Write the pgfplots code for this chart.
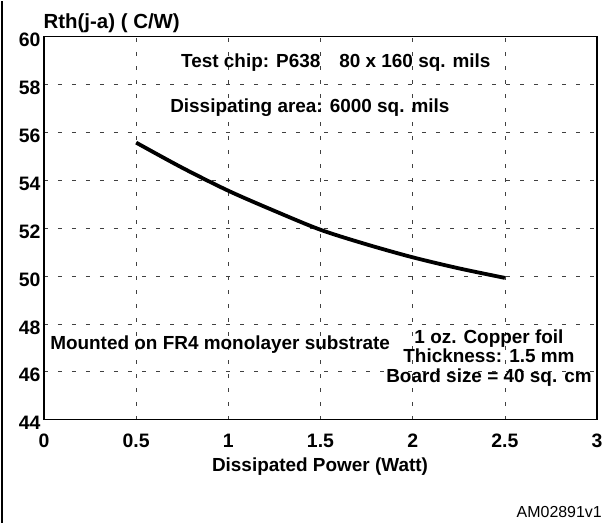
\documentclass[border=0pt]{standalone}
\usepackage{fontspec}
\setmainfont{Liberation Sans}
\usepackage{pgfplots}
\pgfplotsset{compat=1.18}
\newcommand{\bigf}{\fontsize{19}{21}\selectfont\bfseries}
\begin{document}
\begin{tikzpicture}
\begin{axis}[
 scale only axis, width=553bp, height=383bp,
 xmin=0, xmax=3, ymin=44, ymax=60,
 xtick={0,0.5,1,1.5,2,2.5,3},
 xticklabels={0,0.5,1,1.5,2,2.5,3},
 ytick={44,46,48,50,52,54,56,58,60},
 grid=major,
 major grid style={dash pattern=on 4bp off 10bp, line width=0.6bp, black!75},
 major tick length=0pt,
 axis line style={line width=1.3bp},
 tick label style={font=\fontsize{19.5}{21}\selectfont\bfseries},
 /pgf/number format/assume math mode=true,
 xticklabel style={yshift=-11bp},
 yticklabel style={yshift=-3.5bp},
 clip=false,
]
\addplot[black, line width=3.8bp, smooth] coordinates {
 (0.5,55.57) (0.75,54.52) (1.0,53.56) (1.25,52.72) (1.5,51.93)
 (1.75,51.32) (2.0,50.78) (2.25,50.32) (2.5,49.92)
};
\node[inner sep=0pt, anchor=base west, font=\bigf] at (axis cs:0.743,58.705) {Test chip: P638\hspace{19bp}80 x 160 sq. mils};
\node[inner sep=0pt, anchor=base west, font=\bigf] at (axis cs:0.684,56.83) {Dissipating area: 6000 sq. mils};
\node[inner sep=0pt, anchor=base west, font=\bigf] at (axis cs:0.033,46.93) {Mounted on FR4 monolayer substrate};
\node[inner sep=0pt, anchor=base, font=\bigf] at (axis cs:2.414,47.18) {1 oz. Copper foil};
\node[inner sep=0pt, anchor=base, font=\bigf] at (axis cs:2.414,46.38) {Thickness: 1.5 mm};
\node[inner sep=0pt, anchor=base, font=\bigf] at (axis cs:2.414,45.55) {Board size = 40 sq. cm};
\end{axis}
\node[inner sep=0pt, anchor=base east, font=\fontsize{20.5}{22}\selectfont\bfseries] at ([shift={(136bp,391bp)}]current axis.south west) {Rth(j-a)\hspace{5.7bp}(\hspace{5.7bp}C/W)};
\node[inner sep=0pt, anchor=base, font=\bigf] at ([shift={(276bp,-52bp)}]current axis.south west) {Dissipated Power (Watt)};
\node[inner sep=0pt, anchor=base east, font=\fontsize{16}{18}\selectfont] at ([shift={(558bp,-98bp)}]current axis.south west) {AM02891v1};
\path ([shift={(-44bp,-103bp)}]current axis.south west) rectangle ++(609bp,522bp);
\draw[line width=1.2bp] ([shift={(-42bp,-103bp)}]current axis.south west) -- ++(0,522bp);
\end{tikzpicture}
\end{document}
